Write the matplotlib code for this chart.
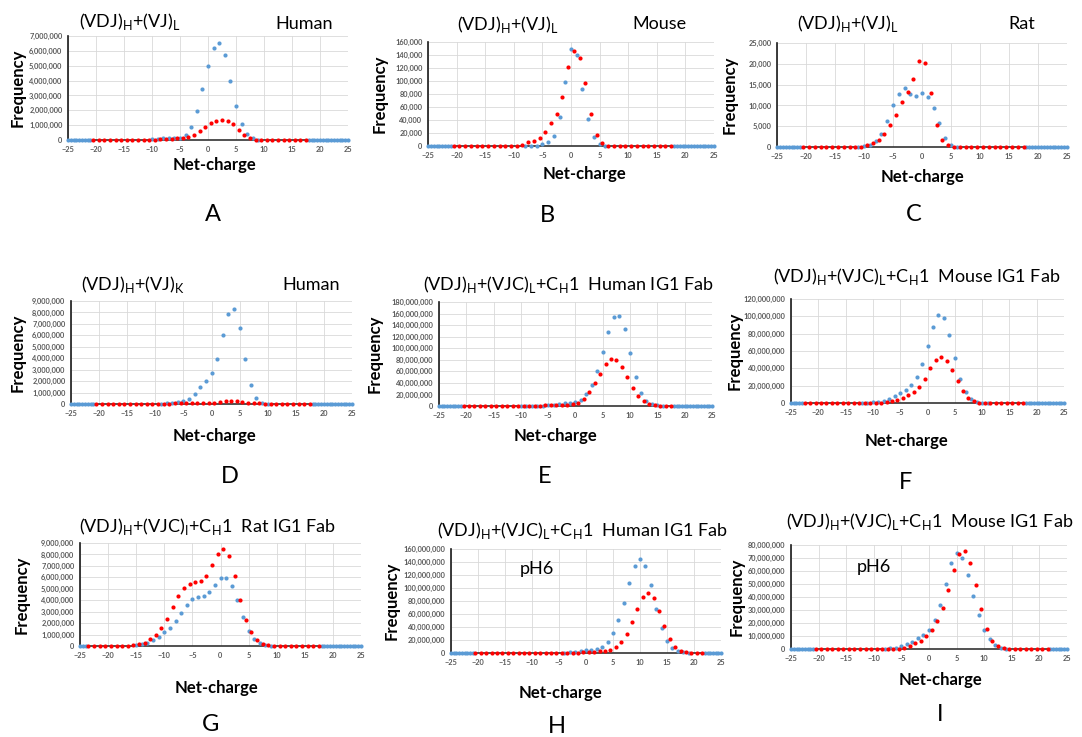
import numpy as np
import matplotlib
matplotlib.use("Agg")
import matplotlib.pyplot as plt
from matplotlib.ticker import FuncFormatter, MultipleLocator

plt.rcParams['font.family'] = ['Lato', 'DejaVu Sans']
plt.rcParams['mathtext.fontset'] = 'custom'
plt.rcParams['mathtext.rm'] = 'Lato'

W, H = 1082, 737
BLUE = '#5B9BD5'
RED = '#FF0000'
MS = 3.0

# ---- data: blue sits on integer net-charge, red on half-integers ----
# A  (VDJ)H+(VJ)L human, thousands
a_blue_x0 = -10
a_blue = [50, 100, 150, 150, 120, 150, 350, 900, 1950, 3450, 5000, 6200, 6500,
          5700, 4000, 2300, 1050, 400, 120, 30]
a_red_x0 = -20.5
a_red = [0] * 11 + [20, 50, 80, 100, 120, 150, 200, 350, 600, 900, 1150, 1300,
                    1350, 1300, 1050, 650, 350, 120, 30] + [0] * 9

# B  (VDJ)H+(VJ)L mouse, thousands
b_blue_x0 = -8
b_blue = [0, 0, 0, 3, 6, 15, 45, 99, 149, 140, 87, 41, 14, 3, 0]
b_red_x0 = -20.5
b_red = [0] * 12 + [2, 6, 8, 12, 22, 35, 49, 75, 121, 146, 135, 97, 49, 17, 4] + [0] * 12

# C  (VDJ)H+(VJ)L rat, counts
c_blue_x0 = -11
c_blue = [0, 200, 500, 1500, 3200, 6200, 10100, 12800, 14100, 12800, 12300,
          13000, 12000, 9400, 5700, 2200, 500, 0]
c_red_x0 = -20.5
c_red = [0] * 10 + [100, 500, 1000, 1800, 3100, 5200, 7800, 10900, 13200, 16400,
                    20600, 20100, 12900, 5400, 1600, 400, 50] + [0] * 12

# D  (VDJ)H+(VJ)K human, thousands
d_blue_x0 = -9
d_blue = [20, 50, 100, 200, 250, 400, 850, 1500, 2050, 2700, 3950, 6000, 7900,
          8300, 6600, 3900, 1700, 550, 100, 0]
d_red_x0 = -20.5
d_red = [0] * 13 + [20, 50, 80, 80, 80, 90, 100, 100, 120, 150, 300, 300, 250,
                    180, 130, 120, 60, 20] + [0] * 8

# E  human IG1 Fab, millions
e_blue_x0 = -10
e_blue = [0.2, 0.3, 0.4, 0.6, 0.8, 1, 2, 3.5, 4.5, 5.5, 7, 11, 20, 37, 61, 93,
          128, 154, 156, 133, 91, 51, 23, 9, 3, 1, 0]
e_red_x0 = -20.5
e_red = [0] * 11 + [0.2, 0.3, 0.5, 0.7, 0.9, 1, 1.5, 2, 2.5, 3, 6, 12, 24, 40,
                    56, 72, 82, 80, 67, 50, 32, 18, 9, 3, 1, 0.2] + [0] * 2

# F  mouse IG1 Fab, millions
f_blue_x0 = -12
f_blue = [0.3, 0.5, 1, 1.5, 2.5, 4.5, 7.5, 11, 15, 21, 30, 45, 66, 88, 101, 98,
          79, 52, 28, 12.5, 4.5, 1.5, 0.3, 0]
f_red_x0 = -22.5
f_red = [0] * 14 + [0.5, 1, 2, 3.5, 6, 9, 13, 19, 28, 40, 49.5, 53, 49, 38,
                    25.5, 14, 6, 2, 0.5] + [0] * 8

# G  rat IG1 Fab, millions
g_blue_x0 = -15
g_blue = [0.05, 0.15, 0.25, 0.5, 0.8, 1.2, 1.6, 2.2, 2.9, 3.6, 4.1, 4.3, 4.4,
          4.75, 5.3, 5.9, 5.95, 5.25, 4.0, 2.55, 1.35, 0.65, 0.25, 0.07, 0]
g_red_x0 = -23.5
g_red = [0] * 8 + [0.05, 0.15, 0.3, 0.6, 1.0, 1.6, 2.4, 3.4, 4.35, 5.1, 5.45,
                   5.55, 5.7, 6.15, 7.05, 8.05, 8.5, 7.85, 6.1, 4.0, 2.3, 1.2,
                   0.55, 0.2, 0.05] + [0] * 9

# H  human IG1 Fab pH6, millions
h_blue_x0 = -4
h_blue = [0.5, 1, 2, 2.5, 4.5, 5, 6, 9, 17, 31, 51, 77, 107, 134, 145, 134, 105,
          68, 38, 18, 8, 3, 1, 0]
h_red_x0 = -20.5
h_red = [0] * 18 + [0.3, 0.5, 1, 1.2, 2, 2.5, 3.5, 5, 9, 17, 30, 48, 68, 86, 93,
                    85, 65, 41, 22, 10, 3.5, 1, 0.3] + [0] * 2

# I  mouse IG1 Fab pH6, millions
i_blue_x0 = -8
i_blue = [0.2, 0.5, 1, 2, 3.5, 5.5, 8.5, 11, 15, 22, 34, 50, 66, 74, 70, 57, 41,
          26, 15, 7.5, 3, 1, 0]
i_red_x0 = -20.5
i_red = [0] * 15 + [0.3, 1, 2.5, 4.5, 6.5, 10, 15, 21.5, 31.5, 45.5, 61, 73,
                    75.5, 66, 49, 30.5, 15.5, 6.5, 2, 0.5] + [0] * 8

T_VJL = r'(VDJ)$_\mathregular{H}$+(VJ)$_\mathregular{L}$'
T_VJK = r'(VDJ)$_\mathregular{H}$+(VJ)$_\mathregular{K}$'
T_FAB = r'(VDJ)$_\mathregular{H}$+(VJC)$_\mathregular{L}$+C$_\mathregular{H}$1'
T_FAB_I = r'(VDJ)$_\mathregular{H}$+(VJC)$_\mathregular{I}$+C$_\mathregular{H}$1'

# per panel: data, scale, y range, box (l, r, t, b) in px, texts in px
panels = [
    dict(b=(a_blue_x0, a_blue), r=(a_red_x0, a_red), k=1e3, ymax=7e6, step=1e6,
         box=(68, 348, 36, 140), title=(T_VJL, 79, 27), side=('Human', 275, 29),
         ylab=18, xlab=(214, 165), let=('A', 213, 221)),
    dict(b=(b_blue_x0, b_blue), r=(b_red_x0, b_red), k=1e3, ymax=160e3, step=20e3,
         box=(428, 714, 42, 146), title=(T_VJL, 457, 30), side=('Mouse', 632, 29),
         ylab=380, xlab=(585, 174), let=('B', 547, 222)),
    dict(b=(c_blue_x0, c_blue), r=(c_red_x0, c_red), k=1, ymax=25e3, step=5e3,
         box=(777, 1067, 43, 147), title=(T_VJL, 797, 29), side=('Rat', 1008, 29),
         ylab=730, xlab=(923, 177), let=('C', 914, 221)),
    dict(b=(d_blue_x0, d_blue), r=(d_red_x0, d_red), k=1e3, ymax=9e6, step=1e6,
         box=(71, 352, 301, 404), title=(T_VJK, 81, 290), side=('Human', 282, 290),
         ylab=18, xlab=(214, 436), let=('D', 230, 483)),
    dict(b=(e_blue_x0, e_blue), r=(e_red_x0, e_red), k=1e6, ymax=180e6, step=20e6,
         box=(439, 712, 302, 406), title=(T_FAB + '  Human IG1 Fab', 423, 290), side=None,
         ylab=375, xlab=(555, 436), let=('E', 545, 483)),
    dict(b=(f_blue_x0, f_blue), r=(f_red_x0, f_red), k=1e6, ymax=120e6, step=20e6,
         box=(791, 1064, 299, 403), title=(T_FAB + '  Mouse IG1 Fab', 773, 282), side=None,
         ylab=735, xlab=(906, 441), let=('F', 906, 489)),
    dict(b=(g_blue_x0, g_blue), r=(g_red_x0, g_red), k=1e6, ymax=9e6, step=1e6,
         box=(80, 361, 543, 646), title=(T_FAB_I + '  Rat IG1 Fab', 79, 532), side=None,
         ylab=22, xlab=(217, 688), let=('G', 211, 731)),
    dict(b=(h_blue_x0, h_blue), r=(h_red_x0, h_red), k=1e6, ymax=160e6, step=20e6,
         box=(451, 721, 549, 653), title=(T_FAB + '  Human IG1 Fab', 437, 536), side=None,
         ylab=392, xlab=(560, 693), let=('H', 557, 733), ph=(520, 574)),
    dict(b=(i_blue_x0, i_blue), r=(i_red_x0, i_red), k=1e6, ymax=80e6, step=10e6,
         box=(791, 1067, 545, 649), title=(T_FAB + '  Mouse IG1 Fab', 786, 527), side=None,
         ylab=737, xlab=(940, 680), let=('I', 940, 721), ph=(857, 572)),
]

fig = plt.figure(figsize=(W / 100, H / 100), dpi=100)


def ftext(x, y, s, **kw):
    fig.text(x / W, 1 - y / H, s, **kw)


fmt = FuncFormatter(lambda v, p: '{:,.0f}'.format(v))

for p in panels:
    l, r, t, b = p['box']
    ax = fig.add_axes([l / W, 1 - b / H, (r - l) / W, (b - t) / H])

    bx0, bvals = p['b']
    rx0, rvals = p['r']
    bx = bx0 + np.arange(len(bvals))
    rx = rx0 + np.arange(len(rvals))
    by = np.array(bvals) * p['k']
    ry = np.array(rvals) * p['k']
    # zero-frequency padding outside the red range, every half unit
    pad = np.concatenate([np.arange(-25, rx[0] - 0.25, 0.5),
                          np.arange(rx[-1] + 0.5, 25.01, 0.5)])

    ax.plot(pad, np.zeros_like(pad), 'o', color=BLUE, ms=MS, mew=0, clip_on=False, zorder=3)
    ax.plot(bx, by, 'o', color=BLUE, ms=MS, mew=0, clip_on=False, zorder=3)
    ax.plot(rx, ry, 'o', color=RED, ms=MS, mew=0, clip_on=False, zorder=4)

    ax.set_xlim(-25, 25)
    ax.set_ylim(0, p['ymax'])
    ax.xaxis.set_major_locator(MultipleLocator(5))
    ax.yaxis.set_major_locator(MultipleLocator(p['step']))
    ax.yaxis.set_major_formatter(fmt)
    ax.grid(True, color='#D9D9D9', lw=0.6)
    ax.set_axisbelow(True)
    for s in ('top', 'right'):
        ax.spines[s].set_visible(False)
    ax.spines['left'].set_color('#1a1a1a')
    ax.spines['left'].set_linewidth(1.2)
    ax.spines['bottom'].set_color('#333333')
    ax.spines['bottom'].set_linewidth(1.2)
    ax.tick_params(length=0, labelsize=5.3, labelcolor='#595959', pad=4)
    for lab in ax.get_xticklabels() + ax.get_yticklabels():
        lab.set_fontweight('bold')

    s, x, y = p['title']
    ftext(x, y, s, fontsize=13, ha='left', va='baseline')
    if p['side']:
        s, x, y = p['side']
        ftext(x, y, s, fontsize=13, ha='left', va='baseline')
    if 'ph' in p:
        x, y = p['ph']
        ftext(x, y, 'pH6', fontsize=13, ha='left', va='baseline')

    ftext(p['ylab'], (t + b) / 2, 'Frequency', fontsize=12, fontweight='bold',
          rotation=90, ha='center', va='center')
    x, y = p['xlab']
    ftext(x, y, 'Net-charge', fontsize=12, fontweight='bold', ha='center', va='center')
    s, x, y = p['let']
    ftext(x, y, s, fontsize=17, ha='center', va='baseline')

fig.savefig('out.png', dpi=100, facecolor='white')
